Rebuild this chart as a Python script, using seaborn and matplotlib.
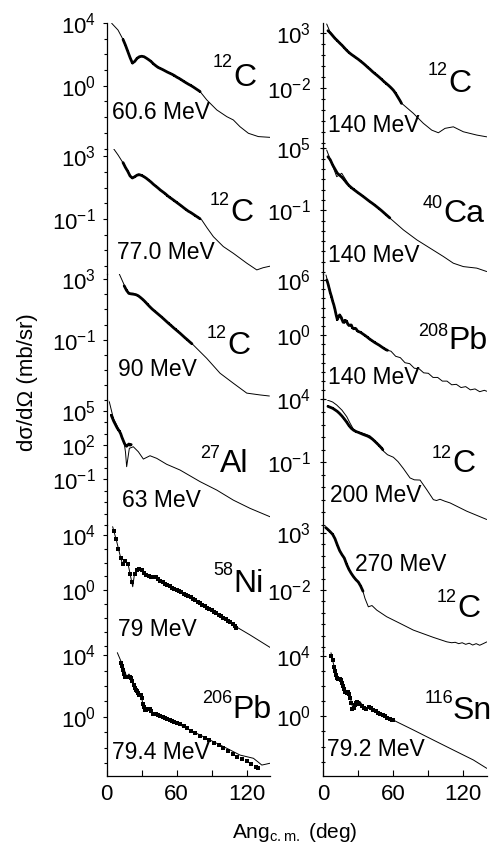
import numpy as np
import pandas as pd
import matplotlib
matplotlib.use("Agg")
import matplotlib.pyplot as plt
from matplotlib import ticker
import seaborn as sns

# cross sections stored as log10(dsigma/dOmega [mb/sr]) vs c.m. angle (deg)

# 12C, 60.6 MeV
c12_606_th_ang = [4.3, 9.7, 14.2, 18.3, 22.3, 25.1, 30.0, 35.4, 42.9, 50.0, 57.1, 68.6, 80.0,
                  85.7, 94.3, 102.9, 108.5, 114.2, 121.4, 129.9, 140.0]
c12_606_th_log = [3.98, 3.55, 2.92, 2.15, 1.39, 1.64, 1.90, 1.71, 1.22, 0.94, 0.69, 0.16, -0.37,
                  -0.90, -1.54, -1.97, -2.18, -2.61, -3.03, -3.24, -3.29]
c12_606_ex_ang = [14, 16, 18, 20, 22, 24, 26, 28, 30, 32, 34, 36, 38, 40, 42, 44, 46, 48, 50,
                  52, 54, 56, 58, 60, 62, 64, 66, 68, 70, 72, 74, 76, 78, 80]
c12_606_ex_log = [2.95, 2.6, 2.2, 1.8, 1.45, 1.55, 1.75, 1.85, 1.88, 1.85, 1.76, 1.66, 1.55,
                  1.40, 1.28, 1.17, 1.10, 1.03, 0.95, 0.87, 0.80, 0.73, 0.65, 0.55, 0.47, 0.38,
                  0.28, 0.19, 0.10, 0.02, -0.07, -0.17, -0.27, -0.37]

# 12C, 77.0 MeV
c12_770_th_ang = [5.7, 9.7, 14.2, 17.8, 21.4, 24.3, 27.1, 30.3, 34.3, 39.7, 45.7, 57.1, 68.6,
                  81.4, 86.0, 91.4, 99.9, 108.5, 120.0, 128.6, 134.0, 140.0]
c12_770_th_log = [3.51, 3.09, 2.56, 2.07, 1.60, 1.75, 1.88, 1.78, 1.60, 1.24, 0.86, 0.22, -0.42,
                  -1.05, -1.56, -2.12, -2.75, -3.18, -3.81, -4.24, -4.10, -4.00]
c12_770_ex_ang = [14, 16, 18, 20, 22, 24, 26, 28, 30, 32, 34, 36, 38, 40, 42, 44, 46, 48, 50,
                  52, 54, 56, 58, 60, 62, 64, 66, 68, 70, 72, 74, 76, 78, 80]
c12_770_ex_log = [2.6, 2.3, 2.05, 1.75, 1.62, 1.70, 1.80, 1.83, 1.78, 1.70, 1.60, 1.48, 1.36,
                  1.22, 1.10, 0.98, 0.85, 0.74, 0.63, 0.50, 0.38, 0.28, 0.17, 0.06, -0.05,
                  -0.16, -0.28, -0.39, -0.50, -0.58, -0.68, -0.78, -0.88, -0.98]

# 12C, 90 MeV
c12_90_th_ang = [10.8, 15.7, 18.5, 22.8, 28.5, 39.9, 51.4, 62.8, 74.2, 85.7, 97.1, 108.5, 120.0,
                 131.4, 139.4]
c12_90_th_log = [3.33, 2.49, 2.06, 2.06, 1.84, 0.96, 0.19, -0.57, -1.34, -2.22, -3.20, -3.86,
                 -4.51, -4.63, -4.70]
c12_90_ex_ang = [15, 17, 19, 21, 23, 25, 27, 29, 31, 33, 35, 37, 39, 41, 43, 45, 47, 49, 51, 53,
                 55, 57, 59, 61, 63, 65, 67, 69, 71, 73]
c12_90_ex_log = [2.55, 2.25, 2.05, 2.02, 2.0, 1.97, 1.9, 1.78, 1.65, 1.50, 1.33, 1.17, 1.02,
                 0.89, 0.76, 0.63, 0.50, 0.36, 0.22, 0.08, -0.05, -0.19, -0.32, -0.45, -0.58,
                 -0.72, -0.86, -0.99, -1.13, -1.26]

# 27Al, 63 MeV
al27_th_ang = [2.2, 5.7, 11.4, 14.8, 16.1, 17.1, 19.4, 22.8, 27.1, 31.4, 37.1, 42.9, 51.4, 62.8,
               80.0, 94.3, 108.5, 122.8, 140.0]
al27_th_log = [5.81, 4.35, 3.18, 2.30, 1.39, 0.11, 1.72, 1.86, 1.42, 0.78, 1.07, 0.84, 0.32,
               -0.18, -1.20, -1.94, -2.82, -3.54, -4.28]
al27_ex_ang = [4, 5, 6, 7, 8, 9, 10, 11, 12, 13, 14, 15, 16, 17, 18, 19, 20, 21]
al27_ex_log = [4.6, 4.35, 4.1, 3.9, 3.7, 3.5, 3.35, 3.2, 3.0, 2.7, 2.45, 2.2, 2.0, 1.9, 2.0, 2.1,
               2.0, 2.05]

# 58Ni, 79 MeV
ni58_th_ang = [5.1, 8.6, 11.4, 13.7, 15.7, 18.5, 20.4, 22.3, 23.8, 25.7, 28.5, 32.8, 37.1, 41.4,
               47.1, 57.1, 68.6, 80.0, 94.3, 108.5, 122.8, 140.0]
ni58_th_log = [4.58, 3.50, 2.54, 1.82, 2.18, 1.82, 1.03, 0.26, 1.17, 1.46, 1.58, 1.23, 0.98, 0.98,
               0.62, 0.15, -0.34, -0.94, -1.65, -2.50, -3.21, -4.11]
ni58_ex_ang = [6, 8, 10, 12, 14, 16, 18, 20, 22, 24, 26, 28, 30, 32, 34, 36, 38, 40, 42, 44, 46,
               48, 50, 52, 54, 56, 58, 60, 62, 64, 66, 68, 70, 72, 74, 76, 78, 80, 82, 84, 86,
               88, 90, 92, 94, 96, 98, 100, 102, 104, 106, 108, 110, 111]
ni58_ex_log = [4.3, 3.7, 3.0, 2.3, 1.9, 2.1, 1.9, 1.2, 0.6, 1.2, 1.45, 1.55, 1.45, 1.28, 1.12,
               1.02, 0.98, 0.98, 0.95, 0.82, 0.70, 0.58, 0.48, 0.38, 0.29, 0.20, 0.12, 0.04,
               -0.05, -0.14, -0.23, -0.32, -0.40, -0.50, -0.60, -0.70, -0.82, -0.94, -1.04,
               -1.14, -1.24, -1.34, -1.44, -1.54, -1.64, -1.75, -1.86, -1.97, -2.08, -2.19,
               -2.30, -2.45, -2.60, -2.68]

# 206Pb, 79.4 MeV
pb206_th_ang = [9.1, 14.2, 17.1, 19.1, 21.4, 24.3, 26.0, 27.9, 29.4, 31.4, 35.7, 38.0, 39.9,
                42.9, 48.5, 57.1, 68.6, 80.0, 91.4, 102.9, 114.2, 125.7, 129.7, 132.9, 137.1,
                140.0]
pb206_th_log = [4.16, 3.25, 2.60, 2.77, 2.49, 1.85, 1.74, 1.41, 1.48, 0.65, 0.44, 0.53, 0.11,
                0.22, 0.00, -0.32, -0.75, -1.19, -1.62, -2.05, -2.49, -2.70, -2.94, -3.14,
                -3.07, -3.02]
pb206_ex_ang = [12, 13, 14, 15, 16, 17, 18, 19, 20, 21, 22, 23, 24, 25, 26, 27, 28, 29, 30, 31,
                32, 33, 34, 35, 36, 37, 38, 40, 42, 44, 46, 48, 50, 52, 54, 56, 58, 60, 63, 66,
                69, 72, 76, 80, 84, 88, 92, 96, 100, 104, 108, 112, 116, 120, 124, 128, 130]
pb206_ex_log = [3.5, 3.3, 3.05, 2.8, 2.6, 2.55, 2.55, 2.6, 2.6, 2.5, 2.3, 2.05, 1.85, 1.75, 1.7,
                1.55, 1.4, 1.4, 1.2, 0.8, 0.6, 0.45, 0.42, 0.48, 0.52, 0.5, 0.4, 0.15, 0.18,
                0.1, 0.05, 0.0, -0.08, -0.15, -0.2, -0.27, -0.35, -0.42, -0.5, -0.62, -0.75,
                -0.9, -1.05, -1.22, -1.38, -1.52, -1.72, -1.82, -2.02, -2.22, -2.42, -2.6,
                -2.72, -2.9, -3.1, -3.25, -3.35]

# 12C, 140 MeV
c12_140_th_ang = [2.9, 5.7, 14.3, 22.9, 34.3, 45.8, 57.2, 62.0, 67.2, 77.1, 85.7, 92.9, 98.6,
                  104.3, 111.4, 120.0, 131.5, 140.0]
c12_140_th_log = [3.81, 3.11, 2.05, 1.15, 0.24, -0.83, -1.89, -2.45, -3.40, -4.30, -5.21, -5.83,
                  -6.07, -5.67, -5.53, -5.98, -6.28, -6.44]
c12_140_ex_ang = [4, 6, 8, 10, 12, 14, 16, 18, 20, 22, 24, 26, 28, 30, 32, 34, 36, 38, 40, 42,
                  44, 46, 48, 50, 52, 54, 56, 58, 60, 62, 64, 66, 67]
c12_140_ex_log = [3.2, 3.0, 2.75, 2.5, 2.3, 2.08, 1.88, 1.65, 1.42, 1.22, 1.05, 0.9, 0.75, 0.6,
                  0.43, 0.26, 0.08, -0.12, -0.3, -0.5, -0.68, -0.85, -1.03, -1.22, -1.42, -1.6,
                  -1.78, -1.98, -2.2, -2.5, -2.85, -3.2, -3.4]

# 40Ca, 140 MeV
ca40_th_ang = [2.9, 7.2, 11.5, 15.8, 22.9, 34.3, 45.8, 57.2, 68.6, 80.1, 91.5, 102.9, 111.4,
               120.0, 131.5, 140.0]
ca40_th_log = [4.85, 3.56, 2.26, 2.59, 1.29, 0.32, -0.65, -1.78, -2.91, -3.88, -4.69, -5.50,
               -6.15, -6.48, -6.63, -6.96]
ca40_ex_ang = [4, 6, 8, 10, 12, 14, 16, 18, 20, 22, 24, 26, 28, 30, 32, 34, 36, 38, 40, 42, 44,
               46, 48, 50, 52, 54, 56, 57]
ca40_ex_log = [4.2, 3.9, 3.4, 3.0, 2.6, 2.4, 2.2, 1.95, 1.65, 1.4, 1.2, 1.02, 0.85, 0.68, 0.52,
               0.35, 0.18, 0.0, -0.17, -0.33, -0.5, -0.68, -0.86, -1.05, -1.25, -1.45, -1.65,
               -1.75]

# 208Pb, 140 MeV
pb208_th_ang = [2.3, 5.7, 8.6, 10.0, 12.0, 14.0, 15.8, 18.0, 20.0, 22.0, 24.0, 26.0, 28.0, 30.0,
                32.0, 36.0, 40.0, 45.0, 50.0, 54.3, 58.0, 62.0, 66.0, 70.0, 74.0, 78.0, 82.0,
                86.0, 90.0, 94.0, 98.0, 102.0, 106.0, 110.0, 114.0, 118.0, 122.0, 126.0, 130.0,
                134.0, 138.0, 140.0]
pb208_th_log = [6.54, 4.91, 3.47, 2.6, 1.65, 2.1, 2.0, 1.3, 1.6, 1.0, 1.15, 0.6, 0.7, 0.3, 0.3,
                -0.1, -0.52, -0.9, -1.28, -1.61, -1.75, -2.3, -2.45, -3.0, -3.1, -3.6, -3.65,
                -4.1, -4.15, -4.6, -4.6, -5.0, -5.0, -5.4, -5.35, -5.7, -5.6, -5.95, -5.85,
                -6.15, -6.0, -6.1]
pb208_ex_ang = [3, 4, 5, 6, 7, 8, 9, 10, 11, 12, 13, 14, 15, 16, 17, 18, 19, 20, 21, 22, 23, 24,
                25, 26, 27, 28, 29, 30, 32, 34, 36, 38, 40, 42, 44, 46, 48, 50, 52, 54, 55]
pb208_ex_log = [6.0, 5.6, 5.1, 4.6, 4.2, 3.7, 3.3, 2.8, 2.2, 1.7, 2.0, 2.2, 2.0, 1.7, 1.4, 1.4,
                1.6, 1.5, 1.2, 1.05, 1.1, 1.1, 0.8, 0.7, 0.75, 0.7, 0.5, 0.4, 0.3, 0.12, -0.05,
                -0.25, -0.45, -0.62, -0.8, -0.95, -1.1, -1.28, -1.45, -1.6, -1.65]

# 12C, 200 MeV
c12_200_th_ang = [3.4, 8.0, 11.5, 16.0, 20.1, 23.0, 25.7, 28.5, 31.5, 35.0, 40.0, 45.8, 51.4,
                  55.0, 60.0, 64.0, 68.6, 74.3, 78.0, 82.9, 88.6, 94.3, 97.0, 100.0, 104.0,
                  108.6, 122.9, 140.0]
c12_200_th_log = [3.96, 3.8, 3.56, 3.15, 2.63, 2.1, 1.65, 1.45, 1.38, 1.28, 1.1, 0.55, -0.1,
                  -0.4, -0.6, -0.95, -1.5, -2.25, -2.4, -2.42, -3.18, -3.98, -4.05, -3.95,
                  -4.1, -4.24, -4.9, -5.56]
c12_200_ex_ang = [4, 6, 8, 10, 12, 14, 16, 18, 20, 22, 24, 26, 28, 30, 32, 34, 36, 38, 40, 42,
                  44, 46, 48, 50, 51]
c12_200_ex_log = [3.45, 3.38, 3.3, 3.18, 3.05, 2.88, 2.68, 2.45, 2.2, 1.92, 1.7, 1.55, 1.45,
                  1.38, 1.3, 1.22, 1.15, 1.08, 0.98, 0.85, 0.68, 0.5, 0.32, 0.12, 0.0]

# 12C, 270 MeV
c12_270_th_ang = [2.3, 8.6, 14.3, 17.1, 21.4, 25.7, 30.0, 33.8, 35.7, 38.6, 41.7, 45.8, 54.3,
                  65.7, 77.1, 94.3, 105.8, 110.0, 113.0, 116.0, 119.0, 122.0, 125.0, 128.0,
                  131.0, 134.0, 137.0, 140.0]
c12_270_th_log = [3.46, 2.82, 1.36, 0.92, -0.10, -0.83, -1.27, -2.05, -2.73, -3.47, -3.36,
                  -3.76, -4.34, -4.92, -5.51, -6.15, -6.54, -6.62, -6.58, -6.70, -6.62, -6.76,
                  -6.66, -6.82, -6.70, -6.84, -6.70, -6.55]
c12_270_ex_ang = [2, 4, 6, 8, 10, 12, 14, 16, 18, 20, 22, 24, 26, 28, 30, 32, 34]
c12_270_ex_log = [3.48, 3.3, 3.1, 2.88, 2.5, 1.95, 1.45, 1.1, 0.8, 0.25, -0.2, -0.55, -0.85,
                  -1.1, -1.3, -1.65, -2.1]

# 116Sn, 79.2 MeV
sn116_th_ang = [6.6, 8.6, 11.5, 13.0, 14.3, 17.1, 20.1, 22.9, 25.7, 28.6, 31.5, 34.0, 35.7,
                40.0, 45.8, 54.3, 62.9, 77.1, 94.3, 111.4, 128.6, 140.0]
sn116_th_log = [4.21, 3.51, 2.74, 2.47, 2.41, 2.19, 1.53, 1.30, 0.42, 0.75, 0.97, 0.68, 0.53,
                0.64, 0.31, -0.02, -0.36, -0.90, -1.57, -2.23, -2.89, -3.44]
sn116_ex_ang = [7, 8, 9, 10, 11, 12, 13, 14, 15, 16, 17, 18, 19, 20, 21, 22, 23, 24, 25, 26,
                27, 28, 29, 30, 31, 33, 35, 37, 39, 41, 43, 45, 47, 49, 51, 53, 55, 57, 59, 60]
sn116_ex_log = [4.0, 3.7, 3.3, 3.0, 2.75, 2.55, 2.45, 2.5, 2.4, 2.2, 2.0, 1.8, 1.6, 1.55, 1.6,
                1.45, 1.2, 0.9, 0.5, 0.55, 0.75, 0.9, 0.95, 0.9, 0.85, 0.7, 0.55, 0.5, 0.6,
                0.55, 0.45, 0.35, 0.25, 0.15, 0.08, 0.0, -0.08, -0.15, -0.22, -0.26]

# column, row, theory, data, y range (decades), labelled decades, mass, symbol, energy, dense data
panels = [
    (0, 0, c12_606_th_ang, c12_606_th_log, c12_606_ex_ang, c12_606_ex_log, (-4.0, 4.0), [4, 0], "12", "C", "60.6 MeV", True),
    (0, 1, c12_770_th_ang, c12_770_th_log, c12_770_ex_ang, c12_770_ex_log, (-4.5, 3.5), [3, -1], "12", "C", "77.0 MeV", True),
    (0, 2, c12_90_th_ang, c12_90_th_log, c12_90_ex_ang, c12_90_ex_log, (-4.93, 3.33), [3, -1], "12", "C", "90 MeV", True),
    (0, 3, al27_th_ang, al27_th_log, al27_ex_ang, al27_ex_log, (-5.0, 6.0), [5, 2, -1], "27", "Al", "63 MeV", True),
    (0, 4, ni58_th_ang, ni58_th_log, ni58_ex_ang, ni58_ex_log, (-4.33, 4.7), [4, 0], "58", "Ni", "79 MeV", False),
    (0, 5, pb206_th_ang, pb206_th_log, pb206_ex_ang, pb206_ex_log, (-3.85, 4.3), [4, 0], "206", "Pb", "79.4 MeV", False),
    (1, 0, c12_140_th_ang, c12_140_th_log, c12_140_ex_ang, c12_140_ex_log, (-7.5, 3.9), [3, -2], "12", "C", "140 MeV", True),
    (1, 1, ca40_th_ang, ca40_th_log, ca40_ex_ang, ca40_ex_log, (-7.2, 5.0), [5, -1], "40", "Ca", "140 MeV", True),
    (1, 2, pb208_th_ang, pb208_th_log, pb208_ex_ang, pb208_ex_log, (-7.0, 6.65), [6, 0], "208", "Pb", "140 MeV", True),
    (1, 3, c12_200_th_ang, c12_200_th_log, c12_200_ex_ang, c12_200_ex_log, (-6.0, 4.0), [4, -1], "12", "C", "200 MeV", True),
    (1, 4, c12_270_th_ang, c12_270_th_log, c12_270_ex_ang, c12_270_ex_log, (-7.3, 3.7), [3, -2], "12", "C", "270 MeV", True),
    (1, 5, sn116_th_ang, sn116_th_log, sn116_ex_ang, sn116_ex_log, (-3.95, 4.36), [4, 0], "116", "Sn", "79.2 MeV", False),
]

# label placement in pixels: (symbol left, symbol baseline, mass baseline), (energy left, energy baseline)
nucleus_pos = {
    (0, 0): (233, 86, 67), (0, 1): (230, 221, 205), (0, 2): (227, 354, 338),
    (0, 3): (220, 472, 458), (0, 4): (233, 592, 575), (0, 5): (232, 718, 703),
    (1, 0): (448, 92, 75), (1, 1): (443, 222, 208), (1, 2): (448, 349, 336),
    (1, 3): (452, 472, 458), (1, 4): (457, 617, 602), (1, 5): (453, 719, 703),
}
energy_pos = {
    (0, 0): (112, 119), (0, 1): (117, 259), (0, 2): (118, 376),
    (0, 3): (122, 507), (0, 4): (118, 636), (0, 5): (112, 759),
    (1, 0): (328, 132), (1, 1): (328, 262), (1, 2): (328, 384),
    (1, 3): (330, 502), (1, 4): (355, 571), (1, 5): (327, 756),
}

sns.set_theme(style="ticks")
plt.rcParams["font.family"] = ["Liberation Sans", "DejaVu Sans"]
plt.rcParams["mathtext.fontset"] = "custom"
plt.rcParams["mathtext.rm"] = "Liberation Sans"
plt.rcParams["mathtext.it"] = "Liberation Sans:italic"
plt.rcParams["mathtext.bf"] = "Liberation Sans:bold"
plt.rcParams["axes.linewidth"] = 0.9
for key in ["text.color", "axes.labelcolor", "axes.edgecolor", "xtick.color", "ytick.color"]:
    plt.rcParams[key] = "black"

W, H = 497, 852
fig = plt.figure(figsize=(W / 100, H / 100), dpi=100)
fig.patch.set_facecolor("white")


def fx(px):
    return px / W


def fy(py):
    return 1 - py / H


col_x0 = [106.7, 323.3]
col_w = 163.4
row_h = 125.5
top0 = 23.0

for col, row, th_ang, th_log, ex_ang, ex_log, (lo, hi), majors, mass, sym, energy, dense in panels:
    top = top0 + row * row_h
    ax = fig.add_axes([fx(col_x0[col]), fy(top + row_h), col_w / W, row_h / H])
    ax.set_facecolor("none")

    th = pd.DataFrame({"ang": th_ang, "xs": 10.0 ** np.array(th_log)})
    ex = pd.DataFrame({"ang": ex_ang, "xs": 10.0 ** np.array(ex_log)})
    if dense:
        # closely spaced points merge into a thick band
        sns.lineplot(data=ex, x="ang", y="xs", ax=ax, color="black", lw=2.0,
                     estimator=None, sort=False)
        sns.scatterplot(data=ex, x="ang", y="xs", ax=ax, color="black", marker="s",
                        s=4, linewidth=0)
    else:
        sns.scatterplot(data=ex, x="ang", y="xs", ax=ax, color="black", marker="s",
                        s=5, linewidth=0)
    sns.lineplot(data=th, x="ang", y="xs", ax=ax, color="black", lw=0.7,
                 estimator=None, sort=False)

    ax.set_yscale("log")
    ax.set_xlim(0, 140)
    ax.set_ylim(10.0 ** lo, 10.0 ** hi)
    ax.set_xlabel("")
    ax.set_ylabel("")

    ax.yaxis.set_major_locator(ticker.FixedLocator([10.0 ** e for e in majors]))
    ax.yaxis.set_major_formatter(ticker.LogFormatterMathtext())
    decades = range(int(np.ceil(lo)), int(np.floor(hi)) + 1)
    ax.yaxis.set_minor_locator(ticker.FixedLocator([10.0 ** e for e in decades]))
    ax.yaxis.set_minor_formatter(ticker.NullFormatter())

    if col == 0:
        ax.tick_params(axis="y", which="major", direction="out", length=3, width=0.8,
                       labelsize=16, pad=4.5)
        ax.tick_params(axis="y", which="minor", direction="out", length=2, width=0.8)
    else:
        ax.tick_params(axis="y", which="major", direction="inout", length=4, width=0.8,
                       labelsize=16, pad=7)
        ax.tick_params(axis="y", which="minor", direction="inout", length=3, width=0.8)

    for side in ["top", "right"]:
        ax.spines[side].set_visible(False)

    if row == 5:
        ax.set_xticks([0, 60, 120])
        ax.set_xticks([30, 90], minor=True)
        ax.tick_params(axis="x", which="both", direction="in", length=4, width=0.8,
                       labelsize=16, pad=6)
    else:
        ax.spines["bottom"].set_visible(False)
        ax.tick_params(axis="x", which="both", bottom=False, labelbottom=False)

    sx, sb, mb = nucleus_pos[(col, row)]
    fig.text(fx(sx), fy(sb), sym, fontsize=23, ha="left", va="baseline")
    fig.text(fx(sx), fy(mb), mass, fontsize=13, ha="right", va="baseline")
    ex_x, ex_b = energy_pos[(col, row)]
    fig.text(fx(ex_x), fy(ex_b), energy, fontsize=16.5, ha="left", va="baseline")

fig.text(fx(27), fy(382), "dσ/dΩ (mb/sr)", rotation=90, ha="center", va="center",
         fontsize=16)
fig.text(fx(295), fy(833), r"Ang$_{\mathrm{c.m.}}$ (deg)", ha="center", va="center",
         fontsize=15)

fig.savefig("out.png", dpi=100)
